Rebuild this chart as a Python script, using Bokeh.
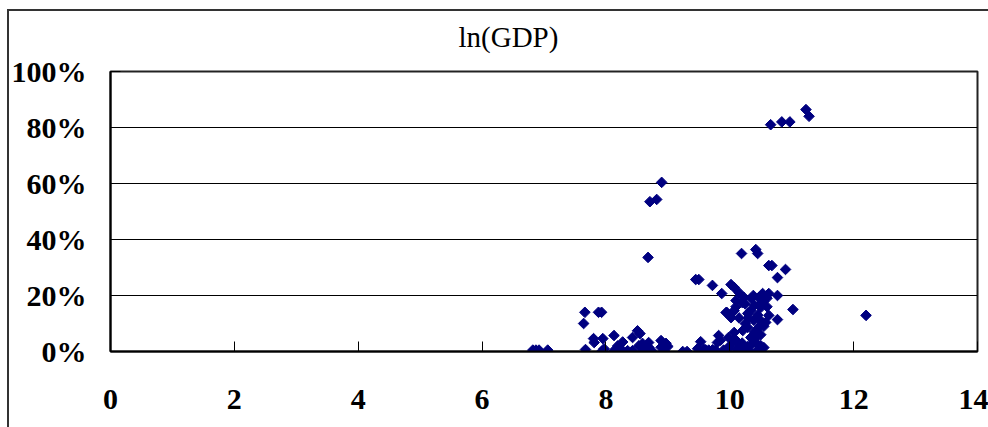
import numpy as np
from bokeh.plotting import figure
from bokeh.models import ColumnDataSource, NumeralTickFormatter, FixedTicker, Range1d
from bokeh.embed import file_html
from bokeh.resources import INLINE

# ln(GDP) values and share (%)
ln_gdp = [
    6.82, 6.87, 6.92, 7.06,
    7.64, 7.66, 7.67, 7.80, 7.81, 7.88, 7.93, 7.93, 7.95, 7.97,
    8.13, 8.13, 8.19, 8.27, 8.27, 8.35, 8.43, 8.43, 8.51, 8.55, 8.53, 8.59, 8.61,
    8.69, 8.69, 8.74, 8.89, 8.89, 8.94, 8.97, 9.00,
    8.68, 8.71, 8.82, 8.90,
    9.24, 9.31, 9.45, 9.50, 9.48, 9.53, 9.58, 9.61, 9.66, 9.72, 9.72, 9.77, 9.80,
    9.82, 9.85, 9.87, 9.90, 9.94, 9.95, 9.97, 9.98, 10.02, 10.02, 10.05, 10.07,
    10.07, 10.07, 10.10, 10.13, 10.15, 10.18, 10.19, 10.21, 10.23, 10.25, 10.29,
    10.29, 10.29, 10.34, 10.34, 10.39, 10.42, 10.42, 10.45, 10.45, 10.47, 10.47,
    10.50, 10.50, 10.50, 10.53, 10.55, 10.58, 10.63, 10.63, 10.63, 10.66, 10.68,
    10.77, 10.77, 10.77, 10.84, 10.90, 10.97, 11.02, 11.23, 11.28, 12.20,
    10.10, 10.20, 10.35, 10.40, 10.45, 10.55, 10.60, 10.38, 10.15, 10.25, 10.00,
    10.10, 10.20, 10.35, 10.40, 10.50, 10.30, 10.12, 10.55, 10.60, 10.40, 10.30, 10.48,
]
share_pct = [
    0.5, 0.5, 0.5, 0.5,
    10.0, 14.0, 0.7, 4.6, 3.2, 14.0, 14.0, 0.0, 4.6, 1.0,
    5.7, 0.3, 2.0, 3.4, 0.3, 0.3, 5.0, 0.3, 7.4, 6.4, 2.0, 2.9, 0.3,
    3.2, 1.5, 0.3, 3.9, 1.5, 0.3, 2.9, 1.8,
    33.6, 53.5, 54.3, 60.4,
    0.0, 0.0, 25.7, 25.7, 1.0, 3.5, 0.8, 0.6, 0.5, 0.6, 23.6, 0.5, 3.2,
    5.7, 4.0, 20.7, 0.5, 13.9, 14.0, 1.0, 5.0, 23.9, 12.1, 3.9, 22.9,
    14.6, 6.8, 18.2, 2.9, 21.0, 1.0, 35.0, 7.5, 19.3, 17.0, 13.6,
    8.6, 1.8, 14.6, 5.0, 11.1, 36.4, 3.2, 35.0, 0.5, 19.3, 8.6,
    15.7, 17.1, 2.1, 20.7, 1.4, 10.4, 30.7, 20.7, 12.9, 81.0, 30.7,
    26.4, 20.0, 11.4, 82.0, 29.3, 82.0, 15.0, 86.4, 84.0, 12.9,
    16.0, 17.5, 19.0, 16.5, 13.0, 18.0, 16.0, 20.0, 12.0, 10.0, 2.0,
    4.0, 3.0, 2.5, 4.5, 6.0, 0.5, 0.5, 9.0, 19.0, 7.0, 12.0, 11.5,
]
x_ticks = [0, 2, 4, 6, 8, 10, 12, 14]
y_ticks = [0.0, 0.2, 0.4, 0.6, 0.8, 1.0]
title_text = "ln(GDP)"

src = ColumnDataSource(data=dict(x=ln_gdp, y=[v / 100.0 for v in share_pct]))

FONT = "Liberation Serif"

p = figure(width=988, height=427, output_backend="svg", toolbar_location=None,
           x_range=Range1d(0, 14), y_range=Range1d(0, 1),
           min_border_left=110, min_border_right=11, min_border_top=71, min_border_bottom=76,
           title=title_text)
# outer chart-area border: only its left and top edges fall inside the window
p.styles = {"box-shadow": "inset 7px 9px 0 0 #ffffff, inset 9px 11px 0 0 #333333"}

p.title.text_font = FONT
p.title.text_font_size = "29px"
p.title.text_font_style = "normal"
p.title.text_color = "#000"
p.title.align = "left"
p.title.offset = 348
p.title.standoff = 34
p.title.vertical_align = "top"

p.scatter("x", "y", source=src, marker="square", angle=np.pi / 4, size=7.5,
          fill_color="#000080", line_color="#000080")

p.xaxis.ticker = FixedTicker(ticks=x_ticks)
p.yaxis.ticker = FixedTicker(ticks=y_ticks)
p.yaxis.formatter = NumeralTickFormatter(format="0%")

for ax in (p.xaxis[0], p.yaxis[0]):
    ax.major_label_text_font = FONT
    ax.major_label_text_font_size = "30px"
    ax.major_label_text_font_style = "bold"
    ax.major_label_text_color = "#000"
    ax.axis_line_color = "#000"
    ax.axis_line_width = 2
    ax.major_tick_in = 10
    ax.major_tick_out = 0
    ax.major_tick_line_color = "#000"
    ax.minor_tick_line_color = None
p.xaxis.major_label_standoff = 38
p.yaxis.major_label_standoff = 24

p.xgrid.grid_line_color = None
p.ygrid.grid_line_color = "#000"
p.ygrid.grid_line_width = 1
p.outline_line_color = "#222"
p.outline_line_width = 2
p.background_fill_color = "white"
p.border_fill_alpha = 0

open("out.html", "w").write(file_html(p, INLINE))
